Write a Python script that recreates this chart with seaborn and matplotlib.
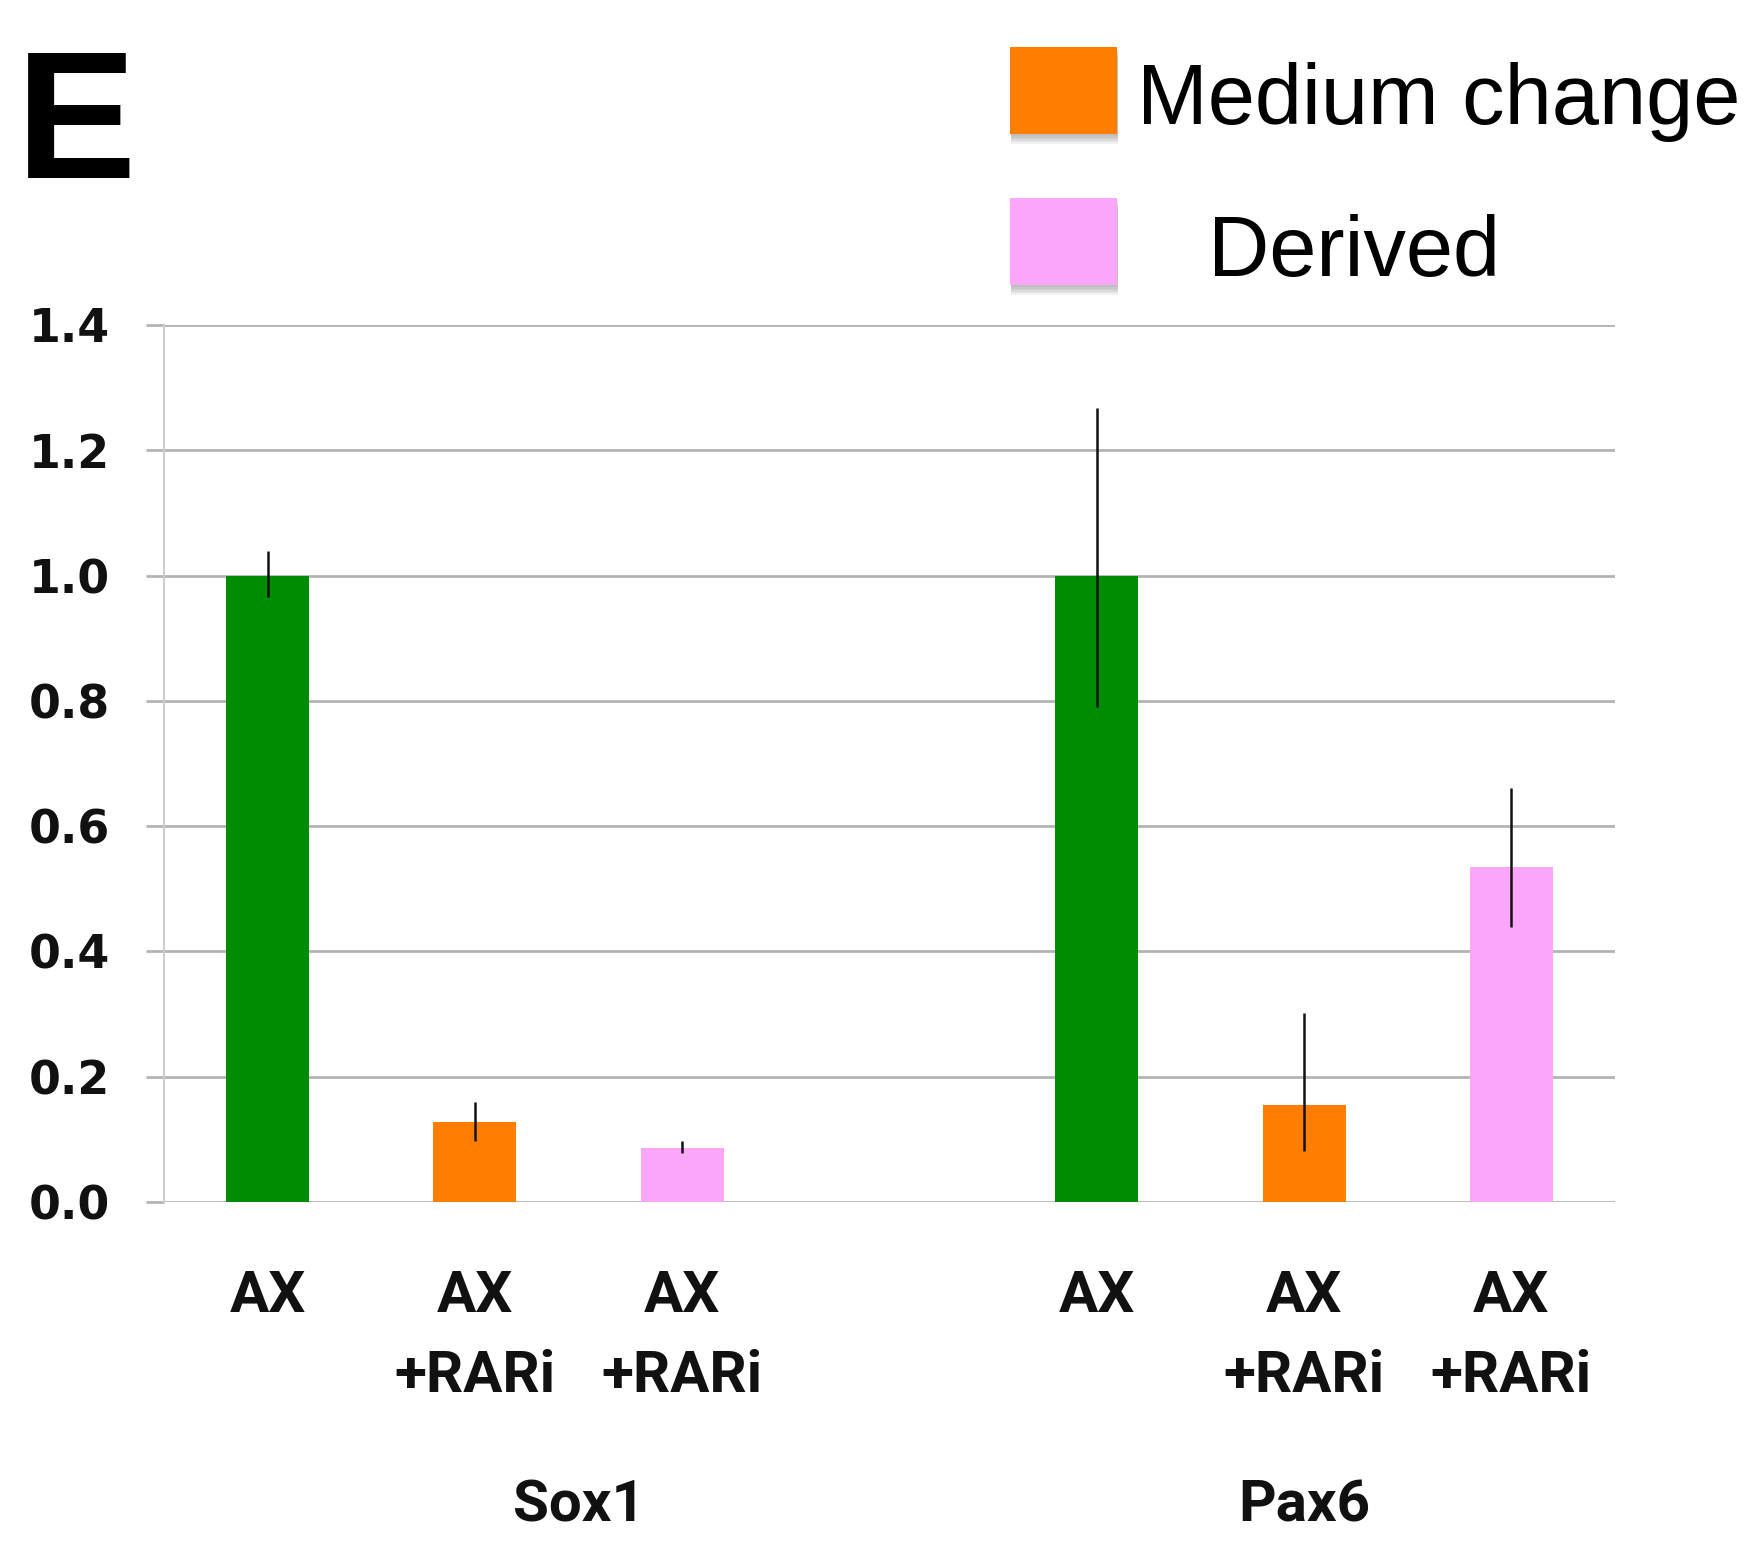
import matplotlib
matplotlib.use("Agg")
import matplotlib.pyplot as plt
import matplotlib.transforms as mtransforms
from matplotlib import font_manager
from matplotlib.patches import Rectangle
import seaborn as sns
import pandas as pd

# ---- data -------------------------------------------------------------
slots = ["Sox1_AX", "Sox1_AXm", "Sox1_AXd", "gap", "Pax6_AX", "Pax6_AXm", "Pax6_AXd"]
bar_slots = ["Sox1_AX", "Sox1_AXm", "Sox1_AXd", "Pax6_AX", "Pax6_AXm", "Pax6_AXd"]
conditions = ["AX", "Medium change", "Derived", "AX", "Medium change", "Derived"]
values = [1.00, 0.128, 0.086, 1.00, 0.155, 0.535]
err_low = [0.034, 0.031, 0.008, 0.21, 0.073, 0.096]
err_high = [0.040, 0.032, 0.011, 0.268, 0.147, 0.126]
tick_labels = ["AX", "AX\n+RARi", "AX\n+RARi", "AX", "AX\n+RARi", "AX\n+RARi"]
genes = ["Sox1", "Pax6"]
gene_label_pos = [1.5, 5.0]
legend_labels = ["Medium change", "Derived"]

colors = {"AX": "#008c00", "Medium change": "#ff7d00", "Derived": "#fba6f8"}

# ---- fonts ------------------------------------------------------------
available = {f.name for f in font_manager.fontManager.ttflist}
label_font = "Roboto" if "Roboto" in available else "DejaVu Sans"

sns.set_theme(style="white")
plt.rcParams["font.family"] = ["DejaVu Sans"]

df = pd.DataFrame({"slot": bar_slots, "cond": conditions, "value": values})
palette = {s: colors[c] for s, c in zip(bar_slots, conditions)}

W, H = 1765, 1552
fig = plt.figure(figsize=(W / 100, H / 100), dpi=100)
ax = fig.add_axes([164 / W, (H - 1202) / H, (1615 - 164) / W, (1202 - 325) / H])

sns.barplot(data=df, x="slot", y="value", order=slots, hue="slot", palette=palette,
            width=0.4, saturation=1, legend=False, dodge=False, errorbar=None,
            linewidth=0, ax=ax, zorder=3)

positions = [slots.index(s) for s in bar_slots]
ax.errorbar(positions, values, yerr=[err_low, err_high], fmt="none",
            ecolor="#111111", elinewidth=1.8, capsize=0, zorder=4)

yticks = [0.0, 0.2, 0.4, 0.6, 0.8, 1.0, 1.2, 1.4]
ax.set_xlim(-0.5, 6.5)
ax.set_ylim(0, 1.4)
ax.set_yticks(yticks)
ax.set_yticklabels([f"{v:.1f}" for v in yticks],
                   fontsize=33, fontweight="bold", color="#111111")
ax.set_xticks(positions)
ax.set_xticklabels(tick_labels, fontsize=42, fontweight="bold", family=label_font,
                   color="#111111", linespacing=1.6, va="top")
ax.set_xlabel("")
ax.set_ylabel("")

ax.yaxis.grid(True, color="#b4b4b4", linewidth=2.0, zorder=0)
ax.set_axisbelow(True)
ax.tick_params(axis="y", length=13, width=2.0, color="#b4b4b4", pad=26, left=True)
ax.tick_params(axis="x", length=0, pad=48)
for side in ["top", "right", "bottom"]:
    ax.spines[side].set_visible(False)
ax.spines["left"].set_color("#cccccc")
ax.spines["left"].set_linewidth(1.4)

gene_trans = mtransforms.blended_transform_factory(ax.transData, fig.transFigure)
for g, xpos in zip(genes, gene_label_pos):
    ax.text(xpos, (H - 1506) / H, g, transform=gene_trans,
            ha="center", va="center", fontsize=42, fontweight="bold", family=label_font,
            color="#111111")

# ---- panel letter and legend -------------------------------------------
fig.text(16 / W, (H - 178) / H, "E", fontsize=130, fontweight="bold",
         family=["Liberation Sans", "DejaVu Sans"], ha="left", va="baseline",
         color="black")

legend_boxes = [(1010, 47, 1117, 134), (1010, 198, 1117, 285)]
legend_text_pos = [(1137, 124), (1208, 276)]
for (x0, y0, x1, y1), lab, (tx, ty) in zip(legend_boxes, legend_labels, legend_text_pos):
    # soft drop shadow under each key
    for k in range(6):
        off = 2 + k * 1.6
        shadow = Rectangle(((x0 + 1) / W, (H - y1 - off) / H), (x1 - x0) / W,
                           (y1 - y0) / H, transform=fig.transFigure,
                           facecolor="#6e6e6e", alpha=0.09, edgecolor="none")
        fig.patches.append(shadow)
    box = Rectangle((x0 / W, (H - y1) / H), (x1 - x0) / W, (y1 - y0) / H,
                    transform=fig.transFigure, facecolor=colors[lab], edgecolor="none")
    fig.patches.append(box)
    fig.text(tx / W, (H - ty) / H, lab, fontsize=61,
             family=["Liberation Sans", "DejaVu Sans"], ha="left", va="baseline",
             color="black")

fig.savefig("out.png", dpi=100, facecolor="white")
